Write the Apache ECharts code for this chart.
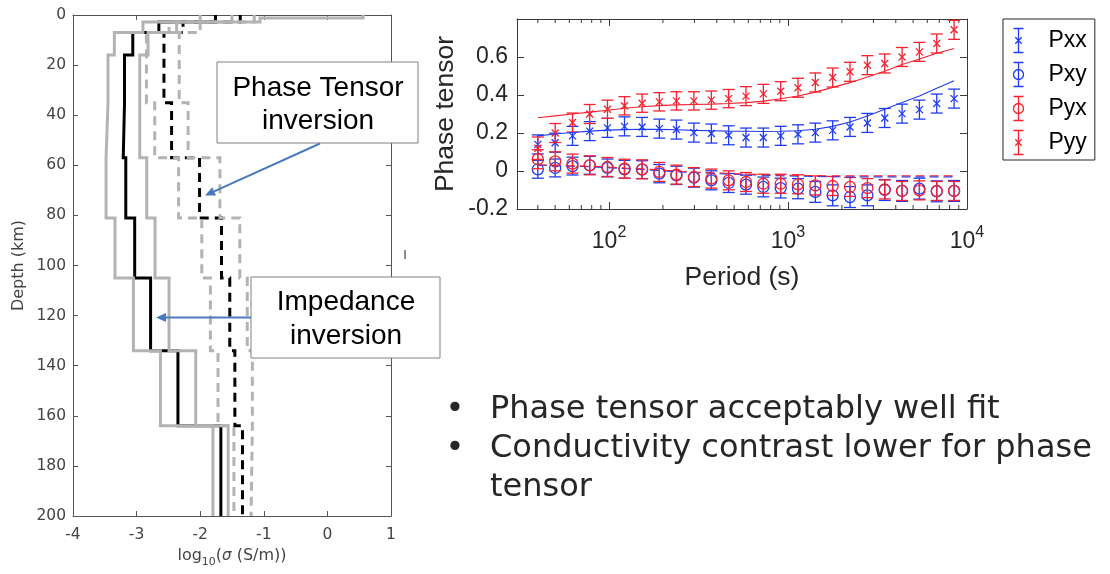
<!DOCTYPE html>
<html><head><meta charset="utf-8">
<script src="https://cdn.jsdelivr.net/npm/echarts@6/dist/echarts.min.js"></script>
<style>html,body{margin:0;padding:0;background:#fff}#c{width:1110px;height:574px}</style>
</head><body><div id="c"></div>
<script>
// ---------- Left panel: 1-D conductivity models (log10 S/m) vs depth (km) ----------
const depthEdges = [0, 1.2, 2.8, 7, 16, 35, 57, 81, 105, 134, 164, 200];
const impModel = [-1.76, -1.76, -2.65, -3.06, -3.19, -3.21, -3.17, -3.03, -2.78, -2.35, -1.675];
const impLow   = [-2.0, -2.0, -2.90, -3.35, -3.45, -3.48, -3.48, -3.34, -3.05, -2.625, -1.80];
const impHigh  = [0.56, -1.06, -2.37, -2.82, -2.95, -2.95, -2.84, -2.71, -2.49, -2.07, -1.56];
const ptModel  = [-1.37, -1.37, -2.27, -2.57, -2.57, -2.45, -2.01, -1.665, -1.535, -1.455, -1.335];
const ptLow    = [-1.5, -1.5, -2.49, -2.845, -2.845, -2.715, -2.34, -1.975, -1.84, -1.72, -1.47];
const ptHigh   = [-1.15, -1.15, -2.0, -2.33, -2.33, -2.19, -1.69, -1.377, -1.26, -1.18, -1.20];

// ---------- Right panel: phase tensor data and fits ----------
const periods = [40, 50, 62.5, 78, 98, 122, 153, 191, 238, 298, 373, 466, 582, 728, 910,
                 1137, 1421, 1776, 2220, 2776, 3470, 4337, 5421, 6776, 8470];
const pxx    = [0.14, 0.149, 0.185, 0.21, 0.227, 0.235, 0.232, 0.223, 0.218, 0.202, 0.197, 0.188, 0.176,
                0.176, 0.185, 0.193, 0.202, 0.214, 0.232, 0.253, 0.279, 0.302, 0.323, 0.355, 0.381];
const pxxErr = [0.05, 0.05, 0.05, 0.05, 0.05, 0.05, 0.05, 0.05, 0.05, 0.05, 0.05, 0.05, 0.05,
                0.05, 0.05, 0.05, 0.05, 0.05, 0.05, 0.05, 0.05, 0.05, 0.05, 0.05, 0.05];
const pxxFit = [0.185, 0.195, 0.203, 0.21, 0.215, 0.218, 0.22, 0.219, 0.217, 0.214, 0.212, 0.21, 0.209,
                0.208, 0.209, 0.212, 0.22, 0.235, 0.258, 0.29, 0.325, 0.36, 0.395, 0.435, 0.475];
const pxy    = [0.009, 0.016, 0.026, 0.03, 0.016, 0.009, 0.007, -0.014, -0.023, -0.035, -0.049, -0.063, -0.072,
                -0.084, -0.09, -0.093, -0.11, -0.128, -0.137, -0.128, -0.10, -0.105, -0.093, -0.107, -0.105];
const pxyErr = [0.047, 0.047, 0.047, 0.047, 0.047, 0.047, 0.047, 0.048, 0.048, 0.05, 0.05, 0.05, 0.05,
                0.052, 0.052, 0.053, 0.055, 0.055, 0.055, 0.055, 0.055, 0.055, 0.055, 0.055, 0.055];
const pxyFit = [0.03, 0.028, 0.025, 0.022, 0.018, 0.013, 0.008, 0.002, -0.003, -0.008, -0.012, -0.016, -0.019,
                -0.022, -0.025, -0.027, -0.029, -0.03, -0.031, -0.031, -0.031, -0.031, -0.031, -0.031, -0.031];
const pyx    = [0.062, 0.051, 0.039, 0.03, 0.021, 0.012, 0.009, -0.005, -0.019, -0.032, -0.04, -0.049, -0.058,
                -0.067, -0.067, -0.07, -0.076, -0.079, -0.084, -0.09, -0.097, -0.105, -0.102, -0.105, -0.105];
const pyxErr = [0.05, 0.05, 0.05, 0.05, 0.05, 0.05, 0.05, 0.05, 0.05, 0.05, 0.05, 0.05, 0.05,
                0.05, 0.05, 0.05, 0.05, 0.05, 0.05, 0.05, 0.05, 0.05, 0.05, 0.05, 0.05];
const pyxFit = [0.033, 0.031, 0.028, 0.025, 0.021, 0.016, 0.011, 0.005, 0.0, -0.005, -0.009, -0.013, -0.016,
                -0.019, -0.021, -0.023, -0.024, -0.025, -0.025, -0.025, -0.025, -0.025, -0.025, -0.025, -0.025];
const pyy    = [0.12, 0.20, 0.255, 0.30, 0.325, 0.343, 0.357, 0.364, 0.369, 0.369, 0.373, 0.381, 0.394,
                0.406, 0.42, 0.438, 0.466, 0.492, 0.522, 0.557, 0.566, 0.60, 0.627, 0.671, 0.743];
const pyyErr = [0.059, 0.05, 0.05, 0.05, 0.048, 0.048, 0.048, 0.048, 0.048, 0.048, 0.048, 0.048, 0.05,
                0.05, 0.05, 0.05, 0.05, 0.05, 0.05, 0.05, 0.05, 0.05, 0.05, 0.05, 0.05];
const pyyFit = [0.28, 0.29, 0.30, 0.31, 0.32, 0.33, 0.338, 0.344, 0.348, 0.35, 0.352, 0.355, 0.36,
                0.368, 0.38, 0.395, 0.415, 0.44, 0.465, 0.495, 0.525, 0.56, 0.59, 0.62, 0.645];
const minorPeriods = [40, 50, 60, 70, 80, 90, 200, 300, 400, 500, 600, 700, 800, 900,
                      2000, 3000, 4000, 5000, 6000, 7000, 8000, 9000];
const seriesNames = ['Pxx', 'Pxy', 'Pyx', 'Pyy'];
const bulletLines = ['Phase tensor acceptably well fit', 'Conductivity contrast lower for phase', 'tensor'];

const BLUE = '#1f3cf2', RED = '#f5222f', GRAY = '#b3b3b3', BLACK = '#000';

function stepData(vals) {
  const out = [];
  vals.forEach((v, i) => { out.push([v, depthEdges[i]]); out.push([v, depthEdges[i + 1]]); });
  return out;
}
function profile(name, vals, color, dashed) {
  return {
    type: 'line', name, xAxisIndex: 0, yAxisIndex: 0, data: stepData(vals),
    symbol: 'none', silent: true, clip: true,
    lineStyle: { color, width: 3, type: dashed ? [9, 6] : 'solid', cap: 'butt', join: 'miter' }
  };
}
function errSeries(name, vals, errs, color, marker) {
  return {
    type: 'custom', name, xAxisIndex: 2, yAxisIndex: 2, silent: true,
    itemStyle: { color },
    data: periods.map((p, i) => [p, vals[i], errs[i]]),
    encode: { x: 0, y: 1 },
    renderItem: function (params, api) {
      const p = api.value(0), v = api.value(1), e = api.value(2);
      const c = api.coord([p, v]), t = api.coord([p, v + e]), b = api.coord([p, v - e]);
      const st = { stroke: color, lineWidth: 1.3, fill: 'none' };
      const hw = 6;
      const ch = [
        { type: 'line', shape: { x1: c[0], y1: t[1], x2: c[0], y2: b[1] }, style: st },
        { type: 'line', shape: { x1: c[0] - hw, y1: t[1], x2: c[0] + hw, y2: t[1] }, style: st },
        { type: 'line', shape: { x1: c[0] - hw, y1: b[1], x2: c[0] + hw, y2: b[1] }, style: st }
      ];
      if (marker === 'x') {
        const m = 3.5;
        ch.push({ type: 'line', shape: { x1: c[0] - m, y1: c[1] - m, x2: c[0] + m, y2: c[1] + m }, style: st });
        ch.push({ type: 'line', shape: { x1: c[0] - m, y1: c[1] + m, x2: c[0] + m, y2: c[1] - m }, style: st });
      } else {
        ch.push({ type: 'circle', shape: { cx: c[0], cy: c[1], r: 5.5 }, style: st });
      }
      return { type: 'group', children: ch };
    }
  };
}
function fitSeries(name, vals, color, dashed) {
  return {
    type: 'line', name, xAxisIndex: 2, yAxisIndex: 2, symbol: 'none', silent: true,
    data: periods.map((p, i) => [p, vals[i]]),
    lineStyle: { color, width: 1.1, type: dashed ? [9, 5] : 'solid' }
  };
}
function arrow(x1, y1, x2, y2, color) {
  const dx = x2 - x1, dy = y2 - y1, L = Math.hypot(dx, dy), ux = dx / L, uy = dy / L;
  const hl = 10, hw = 4.5;
  const bx = x2 - ux * hl, by = y2 - uy * hl;
  return [
    { type: 'line', shape: { x1, y1, x2: bx, y2: by }, style: { stroke: color, lineWidth: 2 } },
    { type: 'polygon', shape: { points: [[x2, y2], [bx - uy * hw, by + ux * hw], [bx + uy * hw, by - ux * hw]] },
      style: { fill: color } }
  ];
}

const LF = 'DejaVu Sans', RF = 'Liberation Sans';
const leftAxisColor = '#555', leftText = '#444', rightAxisColor = '#3a3a3a', rightText = '#262626';

const xBase = { type: 'value', gridIndex: 0, min: -4, max: 1, interval: 1, splitLine: { show: false },
  axisLine: { onZero: false, lineStyle: { color: leftAxisColor, width: 1 } },
  axisTick: { inside: true, length: 5, lineStyle: { color: leftAxisColor } } };
const yBase = { type: 'value', gridIndex: 0, inverse: true, min: 0, max: 200, interval: 20, splitLine: { show: false },
  axisLine: { onZero: false, lineStyle: { color: leftAxisColor, width: 1 } },
  axisTick: { inside: true, length: 5, lineStyle: { color: leftAxisColor } } };
const logX = { type: 'log', logBase: 10, gridIndex: 1, min: 30.6, max: 10000, splitLine: { show: false },
  axisLine: { onZero: false, lineStyle: { color: rightAxisColor, width: 1 } },
  axisTick: { inside: true, length: 7, lineStyle: { color: rightAxisColor } }, minorTick: { show: false } };
const ptY = { type: 'value', gridIndex: 1, min: -0.2, max: 0.8, interval: 0.2, splitLine: { show: false },
  axisLine: { onZero: false, lineStyle: { color: rightAxisColor, width: 1 } },
  axisTick: { inside: true, length: 7, lineStyle: { color: rightAxisColor } } };

const chart = echarts.init(document.getElementById('c'), null, { renderer: 'canvas' });

const graphics = [];
// Phase tensor annotation
graphics.push({ type: 'rect', shape: { x: 217, y: 62, width: 201, height: 81 }, style: { fill: '#fff', stroke: '#808080', lineWidth: 1 }, z: 10 });
graphics.push({ type: 'text', x: 318, y: 88, style: { text: 'Phase Tensor', font: '28px "Liberation Sans"', fill: '#000', align: 'center', verticalAlign: 'middle' }, z: 11 });
graphics.push({ type: 'text', x: 318, y: 121, style: { text: 'inversion', font: '28px "Liberation Sans"', fill: '#000', align: 'center', verticalAlign: 'middle' }, z: 11 });
arrow(320, 143.5, 205, 195.5, '#4a7bbf').forEach(g => { g.z = 12; graphics.push(g); });
// Impedance annotation
graphics.push({ type: 'rect', shape: { x: 251, y: 277, width: 189, height: 81 }, style: { fill: '#fff', stroke: '#808080', lineWidth: 1 }, z: 10 });
graphics.push({ type: 'text', x: 346, y: 302, style: { text: 'Impedance', font: '28px "Liberation Sans"', fill: '#000', align: 'center', verticalAlign: 'middle' }, z: 11 });
graphics.push({ type: 'text', x: 346, y: 336, style: { text: 'inversion', font: '28px "Liberation Sans"', fill: '#000', align: 'center', verticalAlign: 'middle' }, z: 11 });
arrow(251, 317.5, 156, 317.5, '#4a7bbf').forEach(g => { g.z = 12; graphics.push(g); });
// small stray mark
graphics.push({ type: 'line', shape: { x1: 405, y1: 250, x2: 405, y2: 259 }, style: { stroke: '#666', lineWidth: 1.5 }, z: 5 });
// bullets
const bulletY = [410, 449, 488];
[0, 1].forEach(i => graphics.push({ type: 'text', x: 455, y: bulletY[i], style: { text: '•', font: '32px "DejaVu Sans"', fill: '#262626', align: 'center', verticalAlign: 'middle' } }));
bulletLines.forEach((t, i) => graphics.push({ type: 'text', x: 490, y: bulletY[i], style: { text: t, font: '32px "DejaVu Sans"', fill: '#262626', align: 'left', verticalAlign: 'middle' } }));

const xIcon = 'path://M5 0L5 24M0 0L10 0M0 24L10 24M1.8 8.8L8.2 15.2M8.2 8.8L1.8 15.2';
const oIcon = 'path://M5 0L5 24M0 0L10 0M0 24L10 24M10 12A5 5 0 1 1 0 12A5 5 0 1 1 10 12';

chart.setOption({
  animation: false,
  backgroundColor: '#fff',
  grid: [
    { left: 73, top: 15, width: 318, height: 501, outerBoundsMode: 'none', containLabel: false },
    { left: 517, top: 19, width: 450, height: 190, outerBoundsMode: 'none', containLabel: false }
  ],
  legend: {
    orient: 'vertical', left: 1003, top: 19, itemWidth: 50, itemHeight: 24, itemGap: 5,
    padding: [7, 8, 3, 8], borderColor: '#262626', borderWidth: 1, backgroundColor: '#fff',
    selectedMode: false, symbolKeepAspect: true,
    textStyle: { fontFamily: RF, fontSize: 23, color: '#000' },
    data: [
      { name: 'Pxx', icon: xIcon, itemStyle: { color: 'none', borderColor: BLUE, borderWidth: 1.3 } },
      { name: 'Pxy', icon: oIcon, itemStyle: { color: 'none', borderColor: BLUE, borderWidth: 1.3 } },
      { name: 'Pyx', icon: oIcon, itemStyle: { color: 'none', borderColor: RED, borderWidth: 1.3 } },
      { name: 'Pyy', icon: xIcon, itemStyle: { color: 'none', borderColor: RED, borderWidth: 1.3 } }
    ]
  },
  xAxis: [
    Object.assign({}, xBase, { position: 'bottom',
      axisLabel: { color: leftText, fontFamily: LF, fontSize: 15.5, margin: 11 },
      name: '{a|log}{b|10}{a|(}{c|σ}{a| (S/m))}', nameLocation: 'middle', nameGap: 32,
      nameTextStyle: { color: leftText, fontFamily: LF, fontSize: 16,
        rich: { a: { fontFamily: LF, fontSize: 16, color: leftText, verticalAlign: 'top' },
                b: { fontFamily: LF, fontSize: 11, color: leftText, verticalAlign: 'bottom', padding: [9, 0, 0, 0] },
                c: { fontFamily: LF, fontSize: 15, fontStyle: 'italic', color: leftText, verticalAlign: 'top', padding: [1, 0, 0, 0] } } } }),
    Object.assign({}, xBase, { position: 'top', axisLabel: { show: false } }),
    Object.assign({}, logX, { position: 'bottom',
      axisLabel: { showMinLabel: false, margin: 16,
        formatter: function (v) {
          const l = Math.log10(v), e = Math.round(l);
          return Math.abs(l - e) < 1e-6 ? '{b|10}{s|' + e + '}' : '';
        },
        rich: { b: { fontFamily: RF, fontSize: 23, color: rightText, verticalAlign: 'bottom' },
                s: { fontFamily: RF, fontSize: 16, color: rightText, verticalAlign: 'top', padding: [0, 0, 12, 0] } } },
      name: 'Period (s)', nameLocation: 'middle', nameGap: 55,
      nameTextStyle: { fontFamily: RF, fontSize: 26.5, color: rightText } }),
    Object.assign({}, logX, { position: 'top', axisLabel: { show: false } })
  ],
  yAxis: [
    Object.assign({}, yBase, { position: 'left',
      axisLabel: { color: leftText, fontFamily: LF, fontSize: 15.5, margin: 7 },
      name: 'Depth (km)', nameLocation: 'middle', nameGap: 46, nameRotate: 90,
      nameTextStyle: { color: leftText, fontFamily: LF, fontSize: 16 } }),
    Object.assign({}, yBase, { position: 'right', axisLabel: { show: false } }),
    Object.assign({}, ptY, { position: 'left',
      axisLabel: { color: rightText, fontFamily: RF, fontSize: 23, margin: 9, showMaxLabel: false },
      name: 'Phase tensor', nameLocation: 'middle', nameGap: 58, nameRotate: 90,
      nameTextStyle: { fontFamily: RF, fontSize: 26.5, color: rightText } }),
    Object.assign({}, ptY, { position: 'right', axisLabel: { show: false } })
  ],
  series: [
    profile('Impedance model', impModel, BLACK, false),
    profile('Phase tensor model', ptModel, BLACK, true),
    profile('Phase tensor low', ptLow, GRAY, true),
    profile('Phase tensor high', ptHigh, GRAY, true),
    profile('Impedance low', impLow, GRAY, false),
    profile('Impedance high', impHigh, GRAY, false),
    {
      type: 'custom', name: 'minor ticks', xAxisIndex: 2, yAxisIndex: 2, silent: true,
      data: minorPeriods.map(p => [p, 0]), encode: { x: 0, y: 1 },
      renderItem: function (params, api) {
        const x = api.coord([api.value(0), 0])[0];
        const cs = params.coordSys;
        const st = { stroke: rightAxisColor, lineWidth: 1 };
        return { type: 'group', children: [
          { type: 'line', shape: { x1: x, y1: cs.y + cs.height, x2: x, y2: cs.y + cs.height - 4 }, style: st },
          { type: 'line', shape: { x1: x, y1: cs.y, x2: x, y2: cs.y + 4 }, style: st } ] };
      }
    },
    fitSeries('Pxx fit', pxxFit, BLUE, false),
    fitSeries('Pxy fit', pxyFit, BLUE, true),
    fitSeries('Pyx fit', pyxFit, RED, true),
    fitSeries('Pyy fit', pyyFit, RED, false),
    errSeries('Pxx', pxx, pxxErr, BLUE, 'x'),
    errSeries('Pxy', pxy, pxyErr, BLUE, 'o'),
    errSeries('Pyx', pyx, pyxErr, RED, 'o'),
    errSeries('Pyy', pyy, pyyErr, RED, 'x')
  ],
  graphic: graphics
});
</script></body></html>
